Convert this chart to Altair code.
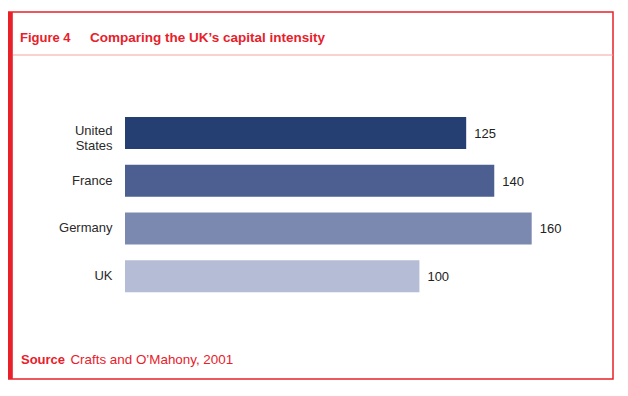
import altair as alt
import pandas as pd

countries = ["United States", "France", "Germany", "UK"]
values = [125, 140, 160, 100]
bar_colors = ["#253f72", "#4d5f90", "#7b89b0", "#b4bcd6"]

fig_label = "Figure 4"
title_text = "Comparing the UK\u2019s capital intensity"
source_label = "Source"
source_text = "Crafts and O\u2019Mahony, 2001"

RED = "#e8202a"
FONT = "Liberation Sans"
W, H = 605, 367
BASE = -57.3

df = pd.DataFrame({"country": countries, "value": values})

yenc = alt.Y(
    "country:N",
    sort=countries,
    scale=alt.Scale(domain=countries, range=[97.1, 288.1], paddingInner=0.33, paddingOuter=0.165),
    axis=alt.Axis(
        title=None, domain=False, ticks=False, tickSize=0, labelPadding=0, offset=-104,
        labelFont=FONT, labelFontSize=13, labelColor="#2a2a2a",
        labelLineHeight=15,
        labelExpr="datum.label == 'United States' ? ['United', 'States'] : datum.label",
        labelOffset={"condition": {"test": "datum.value === 'United States'", "value": -2}, "value": 0},
    ),
)
xenc = alt.X("value:Q", scale=alt.Scale(domain=[BASE, 160], range=[117, 523.7]), axis=None)

bars = alt.Chart(df).mark_bar().encode(
    y=yenc,
    x=xenc,
    x2=alt.datum(BASE),
    color=alt.Color("country:N", scale=alt.Scale(domain=countries, range=bar_colors), legend=None),
)

labels = alt.Chart(df).mark_text(
    align="left", baseline="middle", dx=8, dy=1, font=FONT, fontSize=13, color="#222222"
).encode(y=yenc, x=xenc, text=alt.Text("value:Q"))

def txt(s, x, y, bold=False, size=13):
    return alt.Chart(pd.DataFrame({"t": [s]})).mark_text(
        align="left", baseline="alphabetic", font=FONT, fontSize=size,
        fontWeight="bold" if bold else "normal", color=RED,
    ).encode(x=alt.value(x), y=alt.value(y), text="t:N")

t1 = txt(fig_label, 12, 29.7, True)
t2 = txt(title_text, 82, 29.7, True, 13.5)
s1 = txt(source_label, 13, 352, True)
s2 = txt(source_text, 62.4, 352, False, 13.4)

sep = alt.Chart(pd.DataFrame({"a": [0]})).mark_rule(color="#f3a3a3", strokeWidth=1).encode(
    x=alt.value(4.8), x2=alt.value(W), y=alt.value(43)
)
left_border = alt.Chart(pd.DataFrame({"a": [0]})).mark_rule(color=RED, strokeWidth=4.8).encode(
    x=alt.value(2.4), y=alt.value(0), y2=alt.value(H)
)

chart = alt.layer(bars, labels, t1, t2, s1, s2, sep, left_border).properties(
    width=W, height=H,
    autosize=alt.AutoSizeParams(type="none"),
    padding={"left": 0, "top": 4, "right": 5, "bottom": 5},
).configure(font=FONT).configure_view(stroke=RED, strokeWidth=1.5)

chart.save("out.html", embed_options={"renderer": "svg", "actions": False})
